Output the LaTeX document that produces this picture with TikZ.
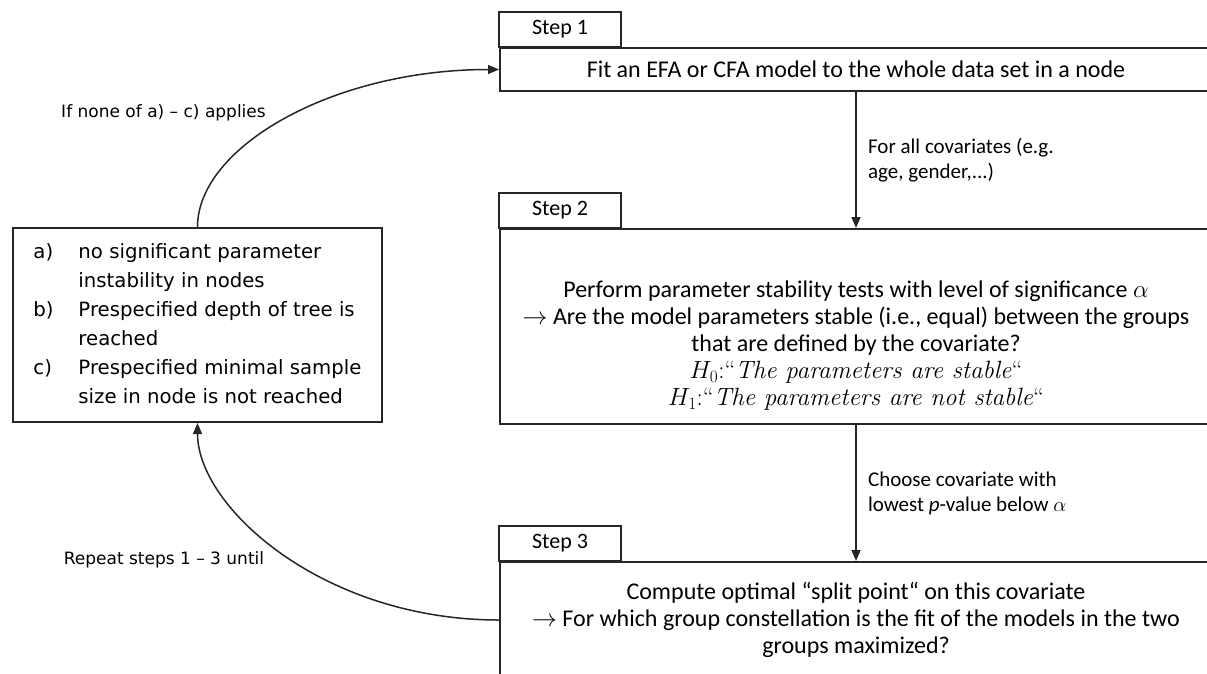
\documentclass[tikz,border=0pt]{standalone}
\usepackage{fontspec}
\newfontfamily\calibri{Carlito}
\newfontfamily\verdana{DejaVu Sans}
\usetikzlibrary{arrows.meta}

\tikzset{
  steptab/.style={draw=black!85, line width=2pt, minimum width=122pt, minimum height=35pt, inner sep=0pt, font=\calibri\fontsize{22}{26}\selectfont},
  stepbox/.style={draw=black!85, line width=2pt, anchor=north west, minimum width=712pt, inner sep=0pt, align=center, font=\calibri\fontsize{24}{27}\selectfont},
  conn/.style={-{Triangle[length=11pt, width=9pt]}, line width=1.5pt, black!85},
  connlabel/.style={right, xshift=8pt, align=left, text=black, font=\calibri\fontsize{21}{25}\selectfont},
  looplabel/.style={font=\verdana\fontsize{17}{21}\selectfont},
}

\begin{document}
\begin{tikzpicture}[x=1pt, y=-1pt]
			\useasboundingbox (0,0) rectangle (1207,673);
			% Tabs
			\node[steptab] (tab1) at (560,29.5) {Step 1};
			\node[steptab] (tab2) at (560,210.5) {Step 2};
			\node[steptab] (tab3) at (560,543.5) {Step 3};
			% Steps
			\node[stepbox, minimum height=43pt] (box1) at (499,47) {Fit an EFA or CFA model to the whole data set in a node};
			\node[stepbox, minimum height=195pt] (box2) at (499,228) {\mbox{}\\[28pt]Perform parameter stability tests with level of significance $\alpha$\\$\rightarrow$ Are the model parameters stable (i.e., equal) between the groups\\that are defined by the covariate?\\{\rmfamily\fontsize{25}{27}\selectfont $H_0$:“\textit{The parameters are stable}“}\\{\rmfamily\fontsize{25}{27}\selectfont $H_1$:“\textit{The parameters are not stable}“}};
			\node[stepbox, minimum height=116pt] (box3) at (499,561) {Compute optimal “split point“ on this covariate\\$\rightarrow$ For which group constellation is the fit of the models in the two\\groups maximized?};
			% Stop conditions
			\node[draw=black!85, line width=2pt, minimum width=369pt, minimum height=194pt, inner sep=0pt, font=\verdana\fontsize{19.7}{29}\selectfont] (stop) at (197.5,325) {\begin{tabular}{@{}p{45pt}@{}l@{}}
				a) & no significant parameter\\
				   & instability in nodes\\
				b) & Prespecified depth of tree is\\
				   & reached\\
				c) & Prespecified minimal sample\\
				   & size in node is not reached
			\end{tabular}};
			% Arrows steps
			\draw[conn] (box1.south) -- (box2.north) node[midway, connlabel] {For all covariates (e.g.\\age, gender,...)};
			\draw[conn] (box2.south) -- (box3.north) node[midway, connlabel] {Choose covariate with\\lowest \textit{p}-value below $\alpha$};
			% Arrows loop
			\draw[conn] (stop.north) to[out=90, in=180, out looseness=0.6, in looseness=1.25] (box1.west);
			\draw[conn] (box3.west) to[out=180, in=-90, out looseness=1.25, in looseness=0.6] (stop.south);
			\node[looplabel] (ifnone) at (163.5,113) {If none of a) – c) applies};
			\node[looplabel] (repeat) at (164,560) {Repeat steps 1 – 3 until};
\end{tikzpicture}
\end{document}
